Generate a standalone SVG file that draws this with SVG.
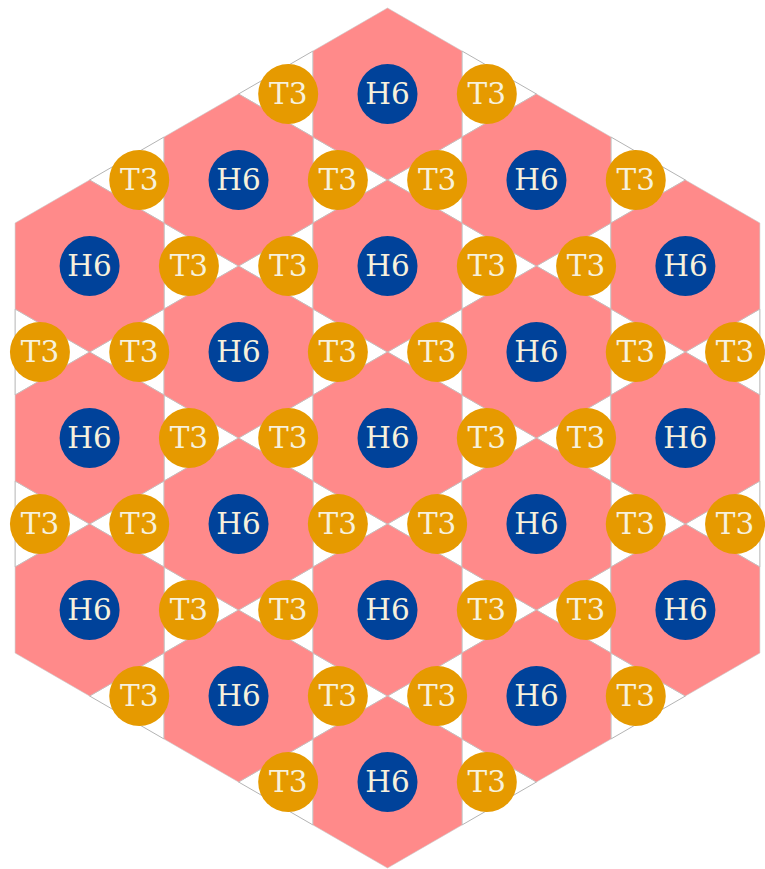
<svg xmlns="http://www.w3.org/2000/svg" xmlns:xlink="http://www.w3.org/1999/xlink" width="765" height="869" viewBox="0 0 765 869">
<style>
.hex{fill:#FF8A8A;stroke:#c8c8c8;stroke-width:0.6}
.tri{fill:#FFFFFF;stroke:#b4b4b4;stroke-width:1}
.h6 circle{fill:#00429A}
.t3 circle{fill:#E69A00}
text{font-family:"DejaVu Serif",serif;font-size:29.5px;fill:#F7F1DC;text-anchor:middle;dominant-baseline:central}
</style>
<defs>
<polygon id="hx" class="hex" points="0,-86 74.48,-43 74.48,43 0,86 -74.48,43 -74.48,-43"/>
<polygon id="tl" class="tri" points="24.83,-43 24.83,43 -49.65,0"/>
<polygon id="tr" class="tri" points="-24.83,-43 -24.83,43 49.65,0"/>
</defs>
<rect width="765" height="869" fill="#FFFFFF"/>
<g id="triangles">
<use href="#tl" x="288.19" y="94"/><use href="#tr" x="486.81" y="94"/>
<use href="#tl" x="139.24" y="180"/><use href="#tr" x="337.85" y="180"/><use href="#tl" x="437.15" y="180"/><use href="#tr" x="635.76" y="180"/>
<use href="#tr" x="188.90" y="266"/><use href="#tl" x="288.19" y="266"/><use href="#tr" x="486.81" y="266"/><use href="#tl" x="586.10" y="266"/>
<use href="#tr" x="39.94" y="352"/><use href="#tl" x="139.24" y="352"/><use href="#tr" x="337.85" y="352"/><use href="#tl" x="437.15" y="352"/><use href="#tr" x="635.76" y="352"/><use href="#tl" x="735.06" y="352"/>
<use href="#tr" x="188.90" y="438"/><use href="#tl" x="288.19" y="438"/><use href="#tr" x="486.81" y="438"/><use href="#tl" x="586.10" y="438"/>
<use href="#tr" x="39.94" y="524"/><use href="#tl" x="139.24" y="524"/><use href="#tr" x="337.85" y="524"/><use href="#tl" x="437.15" y="524"/><use href="#tr" x="635.76" y="524"/><use href="#tl" x="735.06" y="524"/>
<use href="#tr" x="188.90" y="610"/><use href="#tl" x="288.19" y="610"/><use href="#tr" x="486.81" y="610"/><use href="#tl" x="586.10" y="610"/>
<use href="#tl" x="139.24" y="696"/><use href="#tr" x="337.85" y="696"/><use href="#tl" x="437.15" y="696"/><use href="#tr" x="635.76" y="696"/>
<use href="#tl" x="288.19" y="782"/><use href="#tr" x="486.81" y="782"/>
</g>
<g id="hexagons">
<use href="#hx" x="387.5" y="94"/><use href="#hx" x="387.5" y="266"/><use href="#hx" x="387.5" y="438"/><use href="#hx" x="387.5" y="610"/><use href="#hx" x="387.5" y="782"/>
<use href="#hx" x="238.54" y="180"/><use href="#hx" x="238.54" y="352"/><use href="#hx" x="238.54" y="524"/><use href="#hx" x="238.54" y="696"/>
<use href="#hx" x="536.46" y="180"/><use href="#hx" x="536.46" y="352"/><use href="#hx" x="536.46" y="524"/><use href="#hx" x="536.46" y="696"/>
<use href="#hx" x="89.59" y="266"/><use href="#hx" x="89.59" y="438"/><use href="#hx" x="89.59" y="610"/>
<use href="#hx" x="685.41" y="266"/><use href="#hx" x="685.41" y="438"/><use href="#hx" x="685.41" y="610"/>
</g>
<g id="connectors"/>
<g id="nodes">
<g id="h6-1" class="h6"><circle cx="387.5" cy="94" r="30"/><text x="387.5" y="94">H6</text></g>
<g id="h6-2" class="h6"><circle cx="387.5" cy="266" r="30"/><text x="387.5" y="266">H6</text></g>
<g id="h6-3" class="h6"><circle cx="387.5" cy="438" r="30"/><text x="387.5" y="438">H6</text></g>
<g id="h6-4" class="h6"><circle cx="387.5" cy="610" r="30"/><text x="387.5" y="610">H6</text></g>
<g id="h6-5" class="h6"><circle cx="387.5" cy="782" r="30"/><text x="387.5" y="782">H6</text></g>
<g id="h6-6" class="h6"><circle cx="238.54" cy="180" r="30"/><text x="238.54" y="180">H6</text></g>
<g id="h6-7" class="h6"><circle cx="238.54" cy="352" r="30"/><text x="238.54" y="352">H6</text></g>
<g id="h6-8" class="h6"><circle cx="238.54" cy="524" r="30"/><text x="238.54" y="524">H6</text></g>
<g id="h6-9" class="h6"><circle cx="238.54" cy="696" r="30"/><text x="238.54" y="696">H6</text></g>
<g id="h6-10" class="h6"><circle cx="536.46" cy="180" r="30"/><text x="536.46" y="180">H6</text></g>
<g id="h6-11" class="h6"><circle cx="536.46" cy="352" r="30"/><text x="536.46" y="352">H6</text></g>
<g id="h6-12" class="h6"><circle cx="536.46" cy="524" r="30"/><text x="536.46" y="524">H6</text></g>
<g id="h6-13" class="h6"><circle cx="536.46" cy="696" r="30"/><text x="536.46" y="696">H6</text></g>
<g id="h6-14" class="h6"><circle cx="89.59" cy="266" r="30"/><text x="89.59" y="266">H6</text></g>
<g id="h6-15" class="h6"><circle cx="89.59" cy="438" r="30"/><text x="89.59" y="438">H6</text></g>
<g id="h6-16" class="h6"><circle cx="89.59" cy="610" r="30"/><text x="89.59" y="610">H6</text></g>
<g id="h6-17" class="h6"><circle cx="685.41" cy="266" r="30"/><text x="685.41" y="266">H6</text></g>
<g id="h6-18" class="h6"><circle cx="685.41" cy="438" r="30"/><text x="685.41" y="438">H6</text></g>
<g id="h6-19" class="h6"><circle cx="685.41" cy="610" r="30"/><text x="685.41" y="610">H6</text></g>

<g id="t3-1" class="t3"><circle cx="288.19" cy="94" r="30"/><text x="288.19" y="94">T3</text></g>
<g id="t3-2" class="t3"><circle cx="486.81" cy="94" r="30"/><text x="486.81" y="94">T3</text></g>
<g id="t3-3" class="t3"><circle cx="139.24" cy="180" r="30"/><text x="139.24" y="180">T3</text></g>
<g id="t3-4" class="t3"><circle cx="337.85" cy="180" r="30"/><text x="337.85" y="180">T3</text></g>
<g id="t3-5" class="t3"><circle cx="437.15" cy="180" r="30"/><text x="437.15" y="180">T3</text></g>
<g id="t3-6" class="t3"><circle cx="635.76" cy="180" r="30"/><text x="635.76" y="180">T3</text></g>
<g id="t3-7" class="t3"><circle cx="188.90" cy="266" r="30"/><text x="188.90" y="266">T3</text></g>
<g id="t3-8" class="t3"><circle cx="288.19" cy="266" r="30"/><text x="288.19" y="266">T3</text></g>
<g id="t3-9" class="t3"><circle cx="486.81" cy="266" r="30"/><text x="486.81" y="266">T3</text></g>
<g id="t3-10" class="t3"><circle cx="586.10" cy="266" r="30"/><text x="586.10" y="266">T3</text></g>
<g id="t3-11" class="t3"><circle cx="39.94" cy="352" r="30"/><text x="39.94" y="352">T3</text></g>
<g id="t3-12" class="t3"><circle cx="139.24" cy="352" r="30"/><text x="139.24" y="352">T3</text></g>
<g id="t3-13" class="t3"><circle cx="337.85" cy="352" r="30"/><text x="337.85" y="352">T3</text></g>
<g id="t3-14" class="t3"><circle cx="437.15" cy="352" r="30"/><text x="437.15" y="352">T3</text></g>
<g id="t3-15" class="t3"><circle cx="635.76" cy="352" r="30"/><text x="635.76" y="352">T3</text></g>
<g id="t3-16" class="t3"><circle cx="735.06" cy="352" r="30"/><text x="735.06" y="352">T3</text></g>
<g id="t3-17" class="t3"><circle cx="188.90" cy="438" r="30"/><text x="188.90" y="438">T3</text></g>
<g id="t3-18" class="t3"><circle cx="288.19" cy="438" r="30"/><text x="288.19" y="438">T3</text></g>
<g id="t3-19" class="t3"><circle cx="486.81" cy="438" r="30"/><text x="486.81" y="438">T3</text></g>
<g id="t3-20" class="t3"><circle cx="586.10" cy="438" r="30"/><text x="586.10" y="438">T3</text></g>
<g id="t3-21" class="t3"><circle cx="39.94" cy="524" r="30"/><text x="39.94" y="524">T3</text></g>
<g id="t3-22" class="t3"><circle cx="139.24" cy="524" r="30"/><text x="139.24" y="524">T3</text></g>
<g id="t3-23" class="t3"><circle cx="337.85" cy="524" r="30"/><text x="337.85" y="524">T3</text></g>
<g id="t3-24" class="t3"><circle cx="437.15" cy="524" r="30"/><text x="437.15" y="524">T3</text></g>
<g id="t3-25" class="t3"><circle cx="635.76" cy="524" r="30"/><text x="635.76" y="524">T3</text></g>
<g id="t3-26" class="t3"><circle cx="735.06" cy="524" r="30"/><text x="735.06" y="524">T3</text></g>
<g id="t3-27" class="t3"><circle cx="188.90" cy="610" r="30"/><text x="188.90" y="610">T3</text></g>
<g id="t3-28" class="t3"><circle cx="288.19" cy="610" r="30"/><text x="288.19" y="610">T3</text></g>
<g id="t3-29" class="t3"><circle cx="486.81" cy="610" r="30"/><text x="486.81" y="610">T3</text></g>
<g id="t3-30" class="t3"><circle cx="586.10" cy="610" r="30"/><text x="586.10" y="610">T3</text></g>
<g id="t3-31" class="t3"><circle cx="139.24" cy="696" r="30"/><text x="139.24" y="696">T3</text></g>
<g id="t3-32" class="t3"><circle cx="337.85" cy="696" r="30"/><text x="337.85" y="696">T3</text></g>
<g id="t3-33" class="t3"><circle cx="437.15" cy="696" r="30"/><text x="437.15" y="696">T3</text></g>
<g id="t3-34" class="t3"><circle cx="635.76" cy="696" r="30"/><text x="635.76" y="696">T3</text></g>
<g id="t3-35" class="t3"><circle cx="288.19" cy="782" r="30"/><text x="288.19" y="782">T3</text></g>
<g id="t3-36" class="t3"><circle cx="486.81" cy="782" r="30"/><text x="486.81" y="782">T3</text></g>
</g>
</svg>
